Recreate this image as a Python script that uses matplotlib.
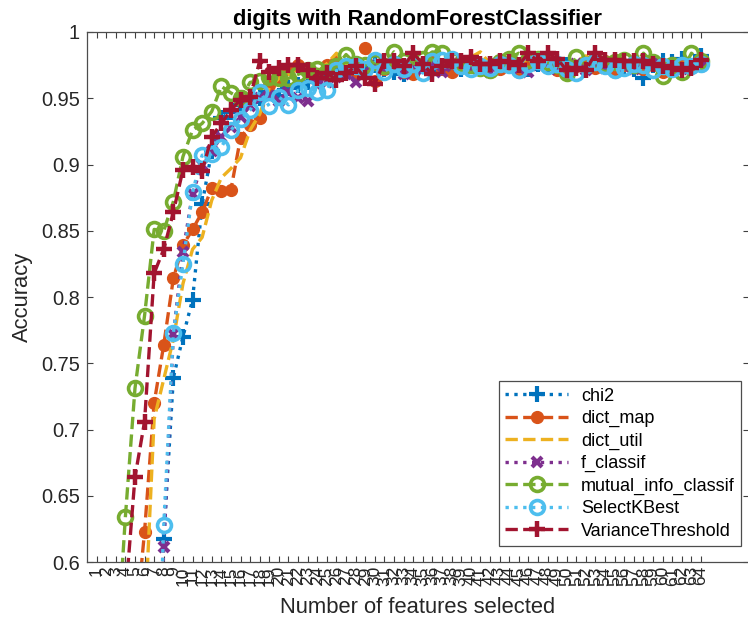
import numpy as np
import matplotlib
matplotlib.use('Agg')
from matplotlib import pyplot as plt
from matplotlib.ticker import FuncFormatter

plt.rcParams['font.family'] = ['Liberation Sans', 'DejaVu Sans']

# accuracy for k = 1..64 selected features
n_features = list(range(1, 65))

chi2 = [
    0.15, 0.20, 0.25, 0.30, 0.35, 0.40, 0.45, 0.617,
    0.739, 0.770, 0.798, 0.870, 0.910, 0.935, 0.940, 0.945,
    0.947, 0.950, 0.955, 0.952, 0.958, 0.960, 0.962, 0.965,
    0.968, 0.970, 0.972, 0.968, 0.970, 0.975, 0.972, 0.970,
    0.968, 0.972, 0.975, 0.970, 0.974, 0.976, 0.972, 0.975,
    0.973, 0.976, 0.974, 0.978, 0.975, 0.972, 0.976, 0.974,
    0.977, 0.975, 0.973, 0.976, 0.979, 0.975, 0.977, 0.974,
    0.972, 0.965, 0.975, 0.978, 0.977, 0.980, 0.974, 0.982]
dict_map = [
    0.30, 0.38, 0.45, 0.50, 0.546, 0.623, 0.720, 0.764,
    0.814, 0.839, 0.851, 0.864, 0.882, 0.880, 0.881, 0.920,
    0.930, 0.935, 0.960, 0.965, 0.972, 0.975, 0.970, 0.966,
    0.975, 0.978, 0.972, 0.970, 0.988, 0.963, 0.972, 0.975,
    0.970, 0.968, 0.976, 0.978, 0.972, 0.970, 0.975, 0.978,
    0.974, 0.976, 0.972, 0.975, 0.970, 0.977, 0.979, 0.976,
    0.971, 0.968, 0.974, 0.976, 0.973, 0.978, 0.970, 0.975,
    0.977, 0.972, 0.975, 0.970, 0.974, 0.976, 0.973, 0.975]
dict_util = [
    0.28, 0.36, 0.42, 0.48, 0.52, 0.55, 0.708, 0.738,
    0.768, 0.810, 0.836, 0.845, 0.873, 0.890, 0.897, 0.905,
    0.926, 0.938, 0.958, 0.965, 0.968, 0.972, 0.975, 0.970,
    0.976, 0.984, 0.975, 0.980, 0.976, 0.974, 0.977, 0.979,
    0.975, 0.978, 0.980, 0.976, 0.974, 0.978, 0.981, 0.981,
    0.985, 0.976, 0.975, 0.978, 0.976, 0.980, 0.977, 0.975,
    0.972, 0.976, 0.978, 0.982, 0.977, 0.975, 0.979, 0.976,
    0.974, 0.978, 0.975, 0.977, 0.973, 0.976, 0.978, 0.975]
f_classif = [
    0.18, 0.22, 0.28, 0.32, 0.36, 0.40, 0.44, 0.611,
    0.772, 0.834, 0.878, 0.900, 0.910, 0.921, 0.928, 0.936,
    0.944, 0.950, 0.952, 0.948, 0.955, 0.950, 0.948, 0.960,
    0.962, 0.966, 0.968, 0.962, 0.970, 0.975, 0.972, 0.974,
    0.968, 0.975, 0.972, 0.976, 0.970, 0.974, 0.977, 0.972,
    0.975, 0.970, 0.974, 0.976, 0.973, 0.970, 0.975, 0.977,
    0.972, 0.974, 0.976, 0.971, 0.975, 0.973, 0.976, 0.974,
    0.972, 0.975, 0.977, 0.973, 0.975, 0.972, 0.976, 0.974]
mutual_info = [
    0.35, 0.45, 0.52, 0.634, 0.731, 0.786, 0.851, 0.850,
    0.872, 0.906, 0.926, 0.931, 0.940, 0.959, 0.954, 0.950,
    0.962, 0.963, 0.966, 0.965, 0.965, 0.968, 0.971, 0.972,
    0.970, 0.974, 0.983, 0.976, 0.975, 0.977, 0.974, 0.985,
    0.978, 0.976, 0.980, 0.985, 0.984, 0.979, 0.976, 0.975,
    0.973, 0.971, 0.977, 0.980, 0.984, 0.979, 0.980, 0.977,
    0.975, 0.969, 0.981, 0.975, 0.978, 0.976, 0.977, 0.979,
    0.975, 0.984, 0.977, 0.967, 0.975, 0.970, 0.984, 0.978]
select_kbest = [
    0.20, 0.25, 0.30, 0.34, 0.38, 0.40, 0.42, 0.628,
    0.773, 0.825, 0.879, 0.907, 0.908, 0.913, 0.926, 0.934,
    0.941, 0.955, 0.944, 0.951, 0.945, 0.956, 0.958, 0.955,
    0.956, 0.971, 0.974, 0.974, 0.972, 0.979, 0.970, 0.976,
    0.972, 0.976, 0.969, 0.978, 0.979, 0.980, 0.974, 0.972,
    0.974, 0.973, 0.976, 0.975, 0.971, 0.976, 0.978, 0.974,
    0.976, 0.972, 0.969, 0.975, 0.977, 0.974, 0.971, 0.973,
    0.976, 0.975, 0.971, 0.974, 0.972, 0.975, 0.974, 0.976]
variance_threshold = [
    0.30, 0.40, 0.48, 0.573, 0.664, 0.706, 0.818, 0.836,
    0.864, 0.896, 0.898, 0.895, 0.921, 0.931, 0.941, 0.949,
    0.951, 0.978, 0.970, 0.973, 0.975, 0.975, 0.971, 0.965,
    0.969, 0.964, 0.969, 0.974, 0.965, 0.961, 0.978, 0.978,
    0.974, 0.984, 0.976, 0.968, 0.974, 0.978, 0.978, 0.981,
    0.976, 0.976, 0.978, 0.977, 0.975, 0.984, 0.978, 0.984,
    0.980, 0.971, 0.973, 0.971, 0.984, 0.979, 0.979, 0.978,
    0.978, 0.978, 0.976, 0.974, 0.973, 0.971, 0.973, 0.979]

# matlab default colour order
c_blue = (0.000, 0.447, 0.741)
c_orange = (0.850, 0.325, 0.098)
c_yellow = (0.929, 0.694, 0.125)
c_purple = (0.494, 0.184, 0.556)
c_green = (0.466, 0.674, 0.188)
c_cyan = (0.301, 0.745, 0.933)
c_red = (0.635, 0.078, 0.184)

fig = plt.figure(figsize=(7.48, 6.22), dpi=100)
ax = fig.add_axes([87 / 748, 60 / 622, 662 / 748, 530 / 622])

lw = 2.4
ax.plot(n_features, chi2, ':', color=c_blue, lw=lw, marker='+', ms=11, mew=3, label='chi2')
ax.plot(n_features, dict_map, '--', color=c_orange, lw=lw, marker='o', ms=8.5, label='dict_map')
ax.plot(n_features, dict_util, '--', color=c_yellow, lw=lw, label='dict_util')
ax.plot(n_features, f_classif, ':', color=c_purple, lw=lw, marker='x', ms=7, mew=3, label='f_classif')
ax.plot(n_features, mutual_info, '--', color=c_green, lw=lw, marker='o', ms=10, mew=2.6,
        mfc='none', label='mutual_info_classif')
ax.plot(n_features, select_kbest, ':', color=c_cyan, lw=lw, marker='o', ms=10, mew=2.6,
        mfc='none', label='SelectKBest')
ax.plot(n_features, variance_threshold, '--', color=c_red, lw=lw, marker='+', ms=12, mew=3.2,
        label='VarianceThreshold')

ax.set_xlim(0, 69)
ax.set_ylim(0.6, 1)
ax.set_xticks(n_features)
ax.set_xticklabels([str(k) for k in n_features], rotation=90, fontsize=12.5)
ax.set_yticks(np.arange(0.6, 1.001, 0.05))
ax.yaxis.set_major_formatter(FuncFormatter(lambda v, p: '%g' % round(v, 2)))
ax.tick_params(axis='y', labelsize=14.4, pad=5)
ax.tick_params(direction='in', top=True, right=True, length=4, width=0.8,
               colors='0.25', labelcolor='0.15')
ax.tick_params(axis='x', pad=3)
for s in ax.spines.values():
    s.set_color('0.3')
    s.set_linewidth(0.9)

ax.set_xlabel('Number of features selected', fontsize=15.8, color='0.15', labelpad=8)
ax.set_ylabel('Accuracy', fontsize=15.8, color='0.15', labelpad=6)
ax.set_title('digits with RandomForestClassifier', fontsize=15.8, fontweight='bold', pad=5)

leg = ax.legend(loc='lower right', bbox_to_anchor=(0.988, 0.03), borderaxespad=0,
                fontsize=13, handlelength=3.5, handletextpad=0.7, labelspacing=0.3,
                borderpad=0.35, fancybox=False, framealpha=1, edgecolor='0.3')
leg.get_frame().set_linewidth(0.9)

fig.savefig('out.png', dpi=100)
